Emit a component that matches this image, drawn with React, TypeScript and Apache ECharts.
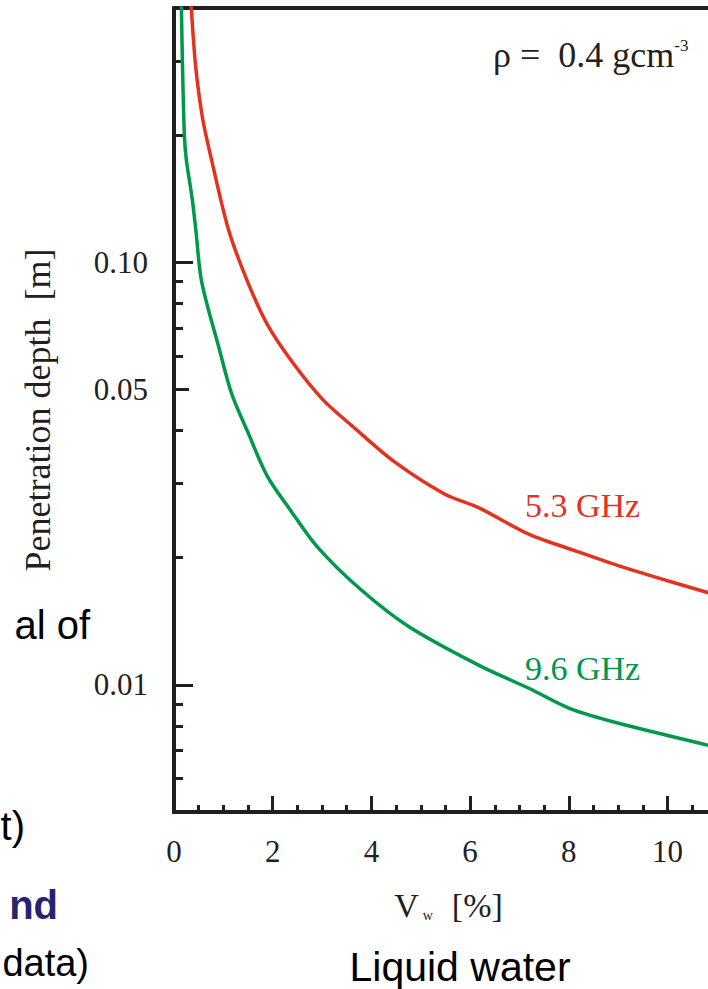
import React, { useEffect, useRef } from 'react';
import * as echarts from 'echarts';

// ---- data ----
const xMajorTicks = [0, 2, 4, 6, 8, 10];
const xMinorTicks = [0.5, 1, 1.5, 2.5, 3, 3.5, 4.5, 5, 5.5, 6.5, 7, 7.5, 8.5, 9, 9.5, 10.5];
const yLabelValues = [0.01, 0.05, 0.1];
const yLabelTexts = ['0.01', '0.05', '0.10'];
const yMajorTicks = [0.01, 0.1];
const yMediumTicks = [0.05];
const yMinorTicks = [0.006, 0.007, 0.008, 0.009, 0.02, 0.03, 0.04, 0.06, 0.07, 0.08, 0.09, 0.2, 0.3];

// Vw [%] and penetration depth [m]
const vw53 = [0.30, 0.35, 0.44, 0.58, 0.76, 1.10, 1.49, 1.89, 2.40, 3.01, 3.62, 4.47, 5.48, 6.19, 7.20, 8.16, 9.03, 10.24, 11.0];
const pd53 = [0.50, 0.40, 0.29, 0.219, 0.175, 0.120, 0.090, 0.0713, 0.058, 0.0474, 0.0409, 0.0337, 0.0283, 0.0262, 0.0227, 0.0207, 0.0191, 0.0173, 0.0163];
const vw96 = [0.12, 0.15, 0.17, 0.21, 0.25, 0.37, 0.44, 0.56, 0.92, 1.17, 1.49, 1.89, 2.38, 2.89, 3.76, 4.77, 6.19, 7.20, 8.01, 9.03, 10.81, 11.0];
const pd96 = [0.60, 0.40, 0.30, 0.20, 0.175, 0.141, 0.120, 0.090, 0.0622, 0.0488, 0.0398, 0.0312, 0.0257, 0.0213, 0.0169, 0.0137, 0.0111, 0.0098, 0.0088, 0.0081, 0.0072, 0.0071];

const yMinValue = 0.005;
const yMaxValue = 0.4;
const xMinValue = 0;
const xMaxValue = 10.82;

const INK = '#231f20';
const RED = '#e2331f';
const GREEN = '#00984a';
const SERIF = '"Liberation Serif", "Times New Roman", serif';
const SANS = '"Liberation Sans", Arial, sans-serif';

const lg = (v: number) => Math.log10(v);

export default function App() {
  const ref = useRef<HTMLDivElement>(null);
  useEffect(() => {
    const chart = echarts.init(ref.current!, null, { renderer: 'svg' });

    const yCommon = {
      type: 'value',
      min: lg(yMinValue),
      max: lg(yMaxValue),
      position: 'left',
      splitLine: { show: false },
      axisLine: { show: true, lineStyle: { color: INK, width: 4 } },
    };
    const xCommon = {
      type: 'value',
      min: xMinValue,
      max: xMaxValue,
      splitLine: { show: false },
      axisLine: { show: true, lineStyle: { color: INK, width: 4 } },
    };

    const option: any = {
      animation: false,
      grid: { left: 174, right: 0, top: 8, bottom: 177, containLabel: false, outerBoundsMode: 'none' },
      xAxis: [
        {
          ...xCommon,
          position: 'bottom',
          name: '{v|V}{s|w}{v|  [%]}',
          nameLocation: 'middle',
          nameGap: 76,
          nameTextStyle: {
            padding: [0, 0, 0, 15],
            rich: {
              v: { fontFamily: SERIF, fontSize: 34, color: INK },
              s: { fontFamily: SERIF, fontSize: 14, color: INK, verticalAlign: 'bottom', padding: [0, 2, 0, 4] },
            },
          },
          axisTick: { show: true, inside: true, length: 16, customValues: xMajorTicks, lineStyle: { color: INK, width: 3 } },
          axisLabel: {
            show: true,
            customValues: xMajorTicks,
            margin: 24,
            fontFamily: SERIF,
            fontSize: 31,
            color: INK,
            formatter: (v: number) => String(v),
          },
        },
        {
          ...xCommon,
          position: 'bottom',
          axisTick: { show: true, inside: true, length: 7, customValues: xMinorTicks, lineStyle: { color: INK, width: 3 } },
          axisLabel: { show: false },
        },
        {
          ...xCommon,
          position: 'top',
          axisTick: { show: false },
          axisLabel: { show: false },
        },
      ],
      yAxis: [
        {
          ...yCommon,
          name: 'Penetration depth  [m]',
          nameLocation: 'middle',
          nameGap: 118,
          nameTextStyle: { fontFamily: SERIF, fontSize: 36, color: INK },
          axisTick: { show: true, inside: true, length: 19, customValues: yMajorTicks.map(lg), lineStyle: { color: INK, width: 3 } },
          axisLabel: {
            show: true,
            customValues: yLabelValues.map(lg),
            margin: 26,
            fontFamily: SERIF,
            fontSize: 31,
            color: INK,
            formatter: (v: number) => {
              for (let i = 0; i < yLabelValues.length; i++) {
                if (Math.abs(lg(yLabelValues[i]) - v) < 1e-6) return yLabelTexts[i];
              }
              return '';
            },
          },
        },
        {
          ...yCommon,
          axisTick: { show: true, inside: true, length: 15, customValues: yMediumTicks.map(lg), lineStyle: { color: INK, width: 3 } },
          axisLabel: { show: false },
        },
        {
          ...yCommon,
          axisTick: { show: true, inside: true, length: 9, customValues: yMinorTicks.map(lg), lineStyle: { color: INK, width: 3 } },
          axisLabel: { show: false },
        },
      ],
      series: [
        {
          name: '5.3 GHz',
          type: 'line',
          xAxisIndex: 0,
          yAxisIndex: 0,
          data: vw53.map((x, i) => [x, lg(pd53[i])]),
          showSymbol: false,
          symbol: 'none',
          smooth: 0.3,
          clip: true,
          lineStyle: { color: RED, width: 3.5 },
        },
        {
          name: '9.6 GHz',
          type: 'line',
          xAxisIndex: 0,
          yAxisIndex: 0,
          data: vw96.map((x, i) => [x, lg(pd96[i])]),
          showSymbol: false,
          symbol: 'none',
          smooth: 0.3,
          clip: true,
          lineStyle: { color: GREEN, width: 3.5 },
        },
      ],
      graphic: [
        {
          type: 'text',
          x: 493,
          y: 55,
          style: {
            text: '{a|ρ =  0.4 gcm}{b|-3}',
            align: 'left',
            verticalAlign: 'middle',
            rich: {
              a: { fontFamily: SERIF, fontSize: 36, fill: INK, color: INK },
              b: { fontFamily: SERIF, fontSize: 17, fill: INK, color: INK, verticalAlign: 'top' },
            },
          },
        },
        {
          type: 'text',
          x: 525,
          y: 505,
          style: { text: '5.3 GHz', fontFamily: SERIF, fontSize: 34, fill: RED, align: 'left', verticalAlign: 'middle' },
        },
        {
          type: 'text',
          x: 525,
          y: 668,
          style: { text: '9.6 GHz', fontFamily: SERIF, fontSize: 34, fill: GREEN, align: 'left', verticalAlign: 'middle' },
        },
        {
          type: 'text',
          x: 460,
          y: 967,
          style: { text: 'Liquid water', fontFamily: SANS, fontSize: 41, fill: '#000', align: 'center', verticalAlign: 'middle' },
        },
        {
          type: 'text',
          x: 90,
          y: 625,
          style: { text: 'al of', fontFamily: SANS, fontSize: 40, fill: '#000', align: 'right', verticalAlign: 'middle' },
        },
        {
          type: 'text',
          x: 25,
          y: 826,
          style: { text: 't)', fontFamily: SANS, fontSize: 40, fill: '#000', align: 'right', verticalAlign: 'middle' },
        },
        {
          type: 'text',
          x: 58,
          y: 905,
          style: { text: 'nd', fontFamily: SANS, fontSize: 40, fontWeight: 'bold', fill: '#27236f', align: 'right', verticalAlign: 'middle' },
        },
        {
          type: 'text',
          x: 89,
          y: 963,
          style: { text: 'data)', fontFamily: SANS, fontSize: 38, fill: '#000', align: 'right', verticalAlign: 'middle' },
        },
      ],
    };

    chart.setOption(option);
    return () => chart.dispose();
  }, []);

  return (
    <div
      ref={ref}
      style={{ position: 'absolute', left: 0, top: 0, width: 708, height: 989, background: '#fff' }}
    />
  );
}
